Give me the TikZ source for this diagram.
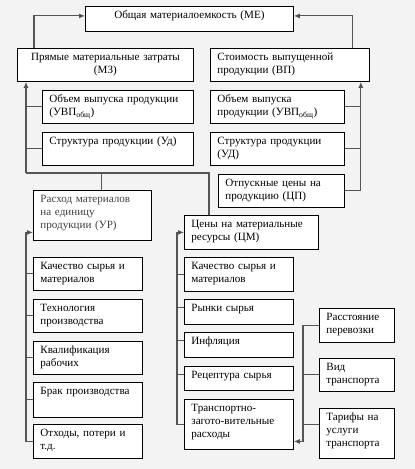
\documentclass[tikz,border=0pt]{standalone}
\usepackage{fontspec}
\setmainfont{Liberation Serif}
\usetikzlibrary{arrows.meta}
\definecolor{bg}{RGB}{243,243,243}
\definecolor{wire}{RGB}{85,85,85}

\begin{document}
\begin{tikzpicture}[
  x=1pt,y=-1pt,
  every node/.style={font=\fontsize{11.1}{13.2}\selectfont},
  box/.style 2 args={draw=black,fill=white,line width=0.8pt,anchor=north west,
    align=left,inner xsep=7pt,inner ysep=3pt,text height=9pt,
    text width={#1-14},text depth={#2-15}},
  conn/.style={wire,line width=1.1pt},
  arr/.style={conn,-{Latex[length=6pt,width=5pt,fill=black!85]}}
]
  \fill[bg] (0,0) rectangle (415,469);
  \useasboundingbox (0,0) rectangle (415,469);

  % top level
  \node[box={208}{25},align=center] (me) at (85,6) {Общая материалоемкость (МЕ)};
  \node[box={176}{33},align=center] (mz) at (17,48) {Прямые материальные затраты\\(МЗ)};
  \node[box={159}{33}] (vp) at (210,48) {Стоимость выпущенной\\продукции (ВП)};

  % left branch of MZ
  \node[box={151}{33}] (uvpa) at (42,90) {Объем выпуска продукции\\(УВП\textsubscript{общ})};
  \node[box={151}{33}] (uda) at (42,132) {Структура продукции (Уд)};

  % right branch of VP
  \node[box={134}{33}] (uvpb) at (210,90) {Объем выпуска\\продукции (УВП\textsubscript{общ})};
  \node[box={134}{33}] (udb) at (210,132) {Структура продукции\\(УД)};
  \node[box={126}{33}] (cp) at (218,174) {Отпускные цены на\\продукцию (ЦП)};

  % UR and its factors
  \node[box={118}{50},text=black!75] (ur) at (33,190) {Расход материалов\\на единицу\\продукции (УР)};
  \node[box={109}{33}] (qa) at (33,257) {Качество сырья и\\материалов};
  \node[box={109}{33}] (tech) at (33,299) {Технология\\производства};
  \node[box={109}{33}] (kval) at (33,341) {Квалификация\\рабочих};
  \node[box={109}{35}] (brak) at (33,382) {Брак производства};
  \node[box={109}{34}] (loss) at (33,424) {Отходы, потери и\\т.д.};

  % CM and its factors
  \node[box={134}{34}] (cm) at (184,215) {Цены на материальные\\ресурсы (ЦМ)};
  \node[box={109}{34}] (qb) at (184,257) {Качество сырья и\\материалов};
  \node[box={109}{25}] (mkt) at (184,299) {Рынки сырья};
  \node[box={109}{25}] (infl) at (184,332) {Инфляция};
  \node[box={109}{24}] (rec) at (184,366) {Рецептура сырья};
  \node[box={109}{50}] (tz) at (184,399) {Транспортно-\\загото-вительные\\расходы};

  % transport factors
  \node[box={75}{34}] (dist) at (319,308) {Расстояние\\перевозки};
  \node[box={75}{33}] (kind) at (319,358) {Вид\\транспорта};
  \node[box={75}{50}] (tar) at (319,408) {Тарифы на\\услуги\\транспорта};

  \coordinate (lj) at (26,173);

  % to ME
  \draw[arr] ([xshift=17]mz.north west) |- ([yshift=3]me.west);
  \draw[arr] ([xshift=-17]vp.north east) |- ([yshift=3]me.east);

  % into MZ
  \draw[arr] (lj) -- (lj |- mz.south);
  \draw[conn] ([xshift=25]cm.north west) |- (lj);
  \draw[conn] ([xshift=9]ur.north) -- ([xshift=9]ur.north |- lj);
  \draw[conn] (uvpa.west) -- (uvpa.west -| lj);
  \draw[conn] (uda.west) -- (uda.west -| lj);

  % into VP
  \draw[arr] (cp.east) -| ([xshift=-9]vp.south east);
  \draw[conn] (uvpb.east) -- ++(16,0);
  \draw[conn] (udb.east) -- ++(16,0);

  % into UR
  \draw[arr] (loss.west) -- ++(-7,0) |- ([yshift=-17]ur.west);
  \foreach \n in {qa,tech,kval,brak}
    \draw[conn] (\n.west) -- ++(-7,0);

  % into CM
  \draw[arr] (tz.west) -- ++(-7,0) |- (cm.west);
  \draw[conn] (qb.west) -- ++(-7,0);
  \foreach \n in {mkt,infl,rec}
    \draw[conn] ([yshift=4]\n.west) -- ++(-7,0);

  % into transport costs
  \draw[arr] (dist.west) -- ++(-16,0) |- ([yshift=-17]tz.east);
  \draw[conn] (kind.west) -- ++(-16,0);
  \draw[conn] ([yshift=9]tar.west) -- ++(-16,0);
\end{tikzpicture}
\end{document}
